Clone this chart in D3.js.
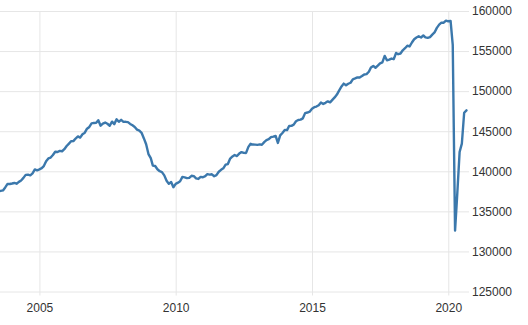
<!DOCTYPE html>
<html>
<head>
<meta charset="utf-8">
<script src="https://cdn.jsdelivr.net/npm/d3@7"></script>
<style>
  body { margin: 0; background: #fff; }
  .axis text { font-family: Arial, "Liberation Sans", sans-serif; font-size: 12px; fill: #333; }
  .axis line { stroke: #e6e6e6; }
  .axis .domain { display: none; }
</style>
</head>
<body>
<div id="chart"></div>
<script>
// employment level, thousands, monthly from Jul 2003
var firstMonth = [2003, 6];
var employment = [
  137474, 137549, 137609, 137984, 138424, 138411,                                         // 2003 (Jul-Dec)
  138472, 138542, 138453, 138680, 138852, 139174, 139556, 139573, 139487, 139732, 140231, 140125, // 2004
  140245, 140385, 140654, 141254, 141609, 141714, 142026, 142434, 142401, 142548, 142499, 142752, // 2005
  143150, 143457, 143741, 143761, 144089, 144353, 144202, 144625, 144815, 145314, 145534, 145970, // 2006
  146032, 146043, 146368, 145686, 145952, 146079, 145926, 145685, 146193, 145885, 146483, 146173, // 2007
  146421, 146165, 146173, 146132, 145908, 145737, 145532, 145203, 145076, 144802, 144100, 143369, // 2008
  142152, 141640, 140707, 140656, 140248, 140009, 139901, 139492, 138818, 138432, 138659, 138013, // 2009
  138438, 138581, 138751, 139297, 139241, 139141, 139179, 139438, 139396, 139119, 139044, 139301, // 2010
  139250, 139394, 139639, 139586, 139624, 139384, 139524, 139942, 140183, 140368, 140826, 140902, // 2011
  141584, 141858, 142036, 141899, 142206, 142391, 142292, 142291, 143044, 143431, 143333, 143330, // 2012
  143292, 143362, 143316, 143635, 143882, 143999, 144264, 144326, 144418, 143537, 144479, 144778, // 2013
  145150, 145134, 145648, 145667, 145825, 146247, 146401, 146451, 146607, 147260, 147331, 147442, // 2014
  147801, 147999, 148076, 148247, 148583, 148406, 148545, 148728, 148603, 148907, 149217, 149575, // 2015
  150097, 150581, 150940, 150726, 150924, 151046, 151480, 151589, 151723, 151700, 151881, 152083, // 2016
  152128, 152417, 152958, 153150, 152920, 153176, 153456, 153591, 154399, 153847, 153945, 154065, // 2017
  153990, 154771, 154610, 154697, 155096, 155356, 155664, 155574, 156070, 156476, 156694, 156847, // 2018
  156695, 156946, 156716, 156645, 156741, 157056, 157327, 157897, 158298, 158544, 158536, 158803, // 2019
  158714, 158759, 155772, 132600, 137242, 142400, 143450, 147300, 147600                          // 2020 (Jan-Sep)
];
var yTicks = [125000, 130000, 135000, 140000, 145000, 150000, 155000, 160000];
var xTickYears = [2005, 2010, 2015, 2020];

var width = 528, height = 325;
var plotRight = 467, plotTop = 11, plotBottom = 291.5;

var data = employment.map(function(v, i){
    return { date: new Date(firstMonth[0], firstMonth[1] + i, 1), value: v };
});

var svg = d3.select("#chart").append("svg")
    .attr("width", width)
    .attr("height", height);

var xScale = d3.scaleTime()
    .domain([new Date(2003, 6, 23), new Date(2020, 8, 8)])
    .range([0, plotRight]);

var yScale = d3.scaleLinear()
    .domain([125000, 160000])
    .range([plotBottom, plotTop]);

// horizontal grid + right labels
svg.append("g")
    .attr("class", "y axis")
    .call(d3.axisRight(yScale)
        .tickValues(yTicks)
        .tickFormat(d3.format("d"))
        .tickSize(469)
        .tickPadding(3));

// vertical grid + year labels
svg.append("g")
    .attr("class", "x axis")
    .attr("transform", "translate(0," + plotTop + ")")
    .call(d3.axisBottom(xScale)
        .tickValues(xTickYears.map(function(y){ return new Date(y, 0, 1); }))
        .tickFormat(d3.timeFormat("%Y"))
        .tickSize(plotBottom - plotTop + 4)
        .tickPadding(8));

var line = d3.line()
    .x(function(d){ return xScale(d.date); })
    .y(function(d){ return yScale(d.value); });

svg.append("path")
    .datum(data)
    .attr("fill", "none")
    .attr("stroke", "#3b78ac")
    .attr("stroke-width", 2.4)
    .attr("stroke-linejoin", "round")
    .attr("stroke-linecap", "round")
    .attr("d", line);
</script>
</body>
</html>
